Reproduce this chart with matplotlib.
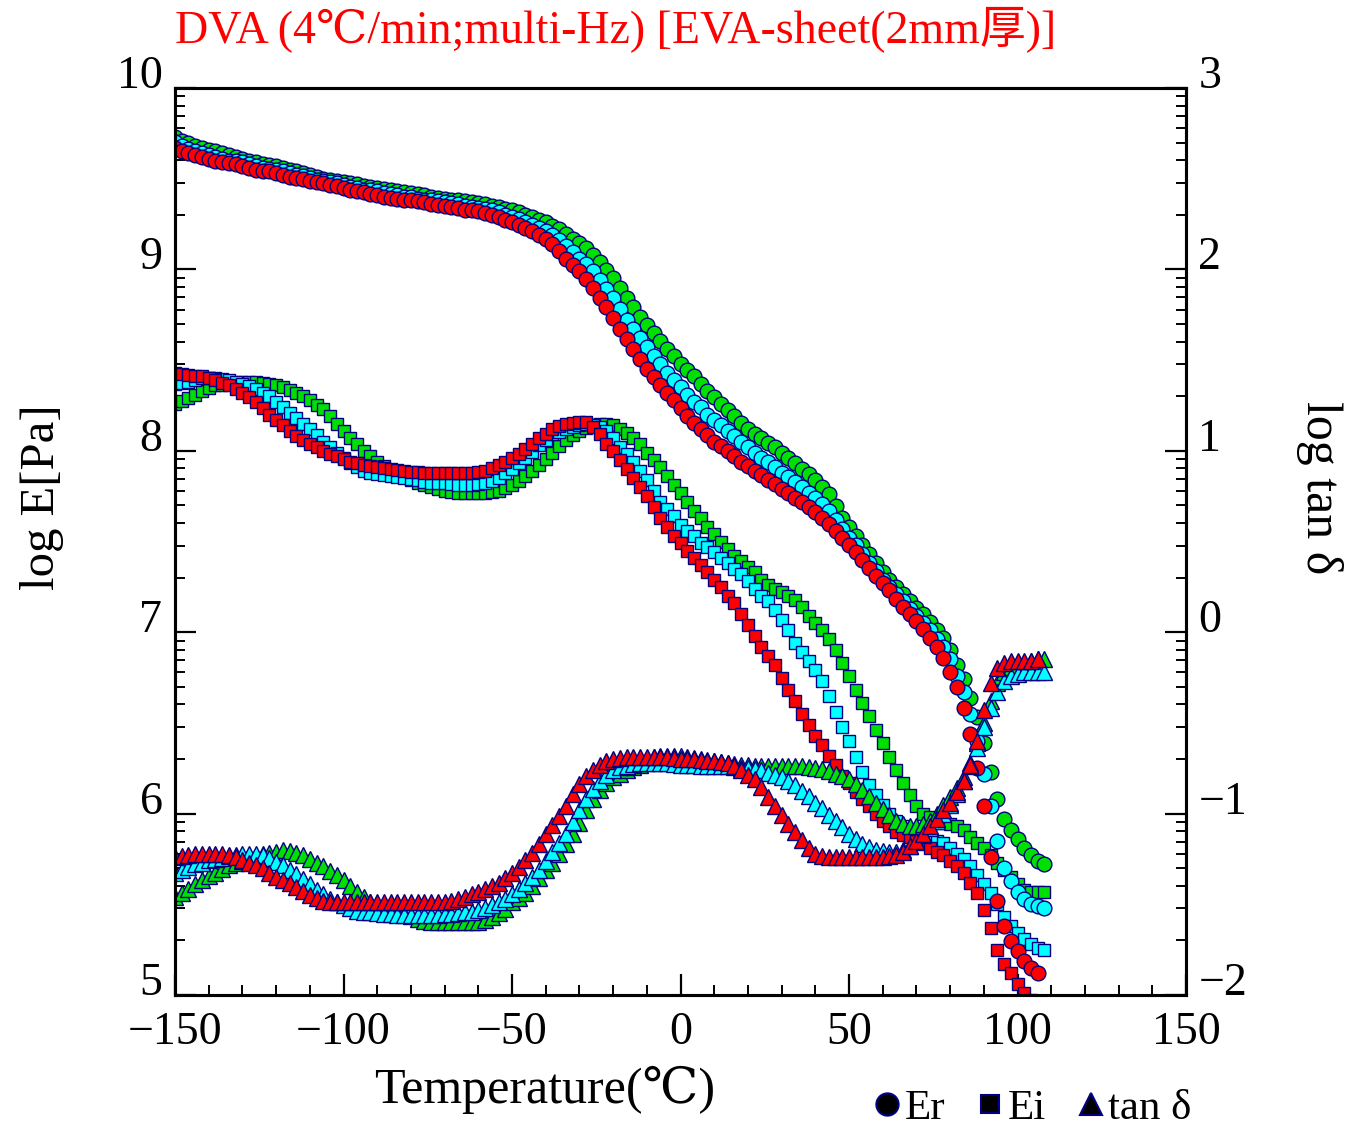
import numpy as np
import matplotlib
matplotlib.use("Agg")
import matplotlib.pyplot as plt
from matplotlib.lines import Line2D

plt.rcParams['font.family'] = ['Liberation Serif', 'DejaVu Serif', 'Noto Sans CJK JP']
plt.rcParams['axes.unicode_minus'] = True

nan = float('nan')

# Temperature grid (deg C)
temps = [-150, -148, -146, -144, -142, -140, -138, -136, -134, -132,
         -130, -128, -126, -124, -122, -120, -118, -116, -114, -112,
         -110, -108, -106, -104, -102, -100, -98, -96, -94, -92,
         -90, -88, -86, -84, -82, -80, -78, -76, -74, -72,
         -70, -68, -66, -64, -62, -60, -58, -56, -54, -52,
         -50, -48, -46, -44, -42, -40, -38, -36, -34, -32,
         -30, -28, -26, -24, -22, -20, -18, -16, -14, -12,
         -10, -8, -6, -4, -2, 0, 2, 4, 6, 8,
         10, 12, 14, 16, 18, 20, 22, 24, 26, 28,
         30, 32, 34, 36, 38, 40, 42, 44, 46, 48,
         50, 52, 54, 56, 58, 60, 62, 64, 66, 68,
         70, 72, 74, 76, 78, 80, 82, 84, 86, 88,
         90, 92, 94, 96, 98, 100, 102, 104, 106, 108]

# log Er [Pa]
er_red = [9.67, 9.655, 9.64, 9.63, 9.62, 9.61, 9.60, 9.59, 9.585, 9.58,
          9.57, 9.56, 9.55, 9.545, 9.54, 9.53, 9.52, 9.51, 9.505, 9.50,
          9.49, 9.48, 9.475, 9.465, 9.46, 9.45, 9.44, 9.43, 9.425, 9.415,
          9.41, 9.40, 9.395, 9.39, 9.385, 9.38, 9.375, 9.37, 9.36, 9.355,
          9.35, 9.345, 9.34, 9.33, 9.325, 9.32, 9.31, 9.30, 9.29, 9.275,
          9.26, 9.245, 9.23, 9.21, 9.19, 9.165, 9.14, 9.10, 9.06, 9.025,
          8.99, 8.945, 8.90, 8.845, 8.79, 8.73, 8.67, 8.615, 8.56, 8.505,
          8.45, 8.405, 8.36, 8.32, 8.28, 8.235, 8.19, 8.155, 8.12, 8.085,
          8.05, 8.025, 8.00, 7.97, 7.94, 7.915, 7.89, 7.865, 7.84, 7.815,
          7.79, 7.765, 7.74, 7.715, 7.69, 7.66, 7.63, 7.595, 7.56, 7.52,
          7.48, 7.44, 7.40, 7.355, 7.31, 7.27, 7.23, 7.185, 7.14, 7.10,
          7.06, 7.015, 6.97, 6.92, 6.86, 6.78, 6.70, 6.58, 6.44, 6.25,
          6.04, 5.76, 5.52, 5.38, 5.30, 5.24, 5.19, 5.15, 5.12, nan]
er_cyan = [9.70, 9.68, 9.665, 9.65, 9.64, 9.63, 9.62, 9.61, 9.60, 9.595,
           9.59, 9.58, 9.57, 9.56, 9.555, 9.55, 9.54, 9.53, 9.52, 9.515,
           9.505, 9.495, 9.49, 9.48, 9.475, 9.465, 9.455, 9.45, 9.44, 9.435,
           9.43, 9.42, 9.415, 9.41, 9.40, 9.40, 9.39, 9.385, 9.38, 9.375,
           9.37, 9.365, 9.36, 9.35, 9.345, 9.34, 9.335, 9.325, 9.315, 9.30,
           9.29, 9.28, 9.26, 9.245, 9.23, 9.21, 9.19, 9.16, 9.13, 9.095,
           9.06, 9.03, 8.99, 8.94, 8.89, 8.84, 8.78, 8.72, 8.67, 8.62,
           8.57, 8.52, 8.48, 8.43, 8.39, 8.35, 8.31, 8.27, 8.24, 8.20,
           8.17, 8.14, 8.11, 8.08, 8.05, 8.02, 7.99, 7.96, 7.94, 7.91,
           7.88, 7.855, 7.83, 7.80, 7.77, 7.74, 7.705, 7.67, 7.62, 7.57,
           7.52, 7.48, 7.43, 7.38, 7.34, 7.29, 7.25, 7.21, 7.17, 7.13,
           7.09, 7.05, 7.01, 6.96, 6.92, 6.85, 6.76, 6.67, 6.55, 6.40,
           6.22, 6.04, 5.85, 5.70, 5.63, 5.57, 5.53, 5.50, 5.49, 5.48]
er_green = [9.73, 9.71, 9.695, 9.68, 9.67, 9.66, 9.65, 9.64, 9.63, 9.62,
            9.61, 9.60, 9.59, 9.58, 9.575, 9.57, 9.56, 9.55, 9.54, 9.53,
            9.52, 9.51, 9.50, 9.495, 9.49, 9.48, 9.475, 9.47, 9.46, 9.455,
            9.45, 9.445, 9.44, 9.43, 9.425, 9.42, 9.415, 9.41, 9.40, 9.395,
            9.39, 9.385, 9.38, 9.375, 9.37, 9.365, 9.36, 9.35, 9.345, 9.335,
            9.325, 9.315, 9.30, 9.29, 9.275, 9.26, 9.24, 9.22, 9.195, 9.17,
            9.145, 9.12, 9.08, 9.04, 8.995, 8.95, 8.895, 8.84, 8.79, 8.74,
            8.695, 8.65, 8.605, 8.56, 8.52, 8.48, 8.445, 8.41, 8.37, 8.33,
            8.295, 8.26, 8.225, 8.19, 8.155, 8.12, 8.095, 8.07, 8.045, 8.02,
            7.99, 7.96, 7.93, 7.90, 7.87, 7.84, 7.80, 7.76, 7.695, 7.63,
            7.58, 7.53, 7.48, 7.43, 7.38, 7.33, 7.29, 7.25, 7.21, 7.17,
            7.135, 7.10, 7.055, 7.01, 6.97, 6.90, 6.82, 6.74, 6.64, 6.53,
            6.39, 6.23, 6.08, 5.97, 5.91, 5.86, 5.81, 5.77, 5.74, 5.72]

# log Ei [Pa]
ei_red = [8.43, 8.425, 8.42, 8.415, 8.41, 8.40, 8.39, 8.375, 8.36, 8.34,
          8.32, 8.295, 8.27, 8.235, 8.20, 8.17, 8.14, 8.11, 8.08, 8.06,
          8.04, 8.02, 8.00, 7.985, 7.97, 7.955, 7.94, 7.93, 7.92, 7.915,
          7.91, 7.905, 7.90, 7.895, 7.89, 7.885, 7.885, 7.88, 7.88, 7.88,
          7.88, 7.88, 7.88, 7.88, 7.88, 7.885, 7.89, 7.905, 7.92, 7.94,
          7.96, 7.985, 8.01, 8.04, 8.07, 8.095, 8.12, 8.135, 8.15, 8.155,
          8.16, 8.16, 8.13, 8.09, 8.04, 8.00, 7.95, 7.90, 7.85, 7.80,
          7.75, 7.69, 7.63, 7.58, 7.53, 7.49, 7.45, 7.41, 7.37, 7.33,
          7.29, 7.25, 7.20, 7.16, 7.10, 7.04, 6.98, 6.92, 6.87, 6.82,
          6.75, 6.68, 6.62, 6.55, 6.49, 6.43, 6.38, 6.32, 6.27, 6.21,
          6.17, 6.12, 6.08, 6.04, 6.00, 5.96, 5.93, 5.90, 5.88, 5.87,
          5.85, 5.83, 5.81, 5.79, 5.77, 5.74, 5.71, 5.67, 5.62, 5.56,
          5.47, 5.37, 5.25, 5.17, 5.12, 5.06, 5.01, 4.97, 4.93, nan]
ei_cyan = [8.37, 8.375, 8.38, 8.39, 8.40, 8.40, 8.40, 8.395, 8.39, 8.38,
           8.37, 8.355, 8.34, 8.32, 8.30, 8.27, 8.24, 8.21, 8.18, 8.15,
           8.12, 8.085, 8.05, 8.02, 7.99, 7.96, 7.93, 7.91, 7.89, 7.88,
           7.87, 7.865, 7.86, 7.855, 7.85, 7.845, 7.84, 7.83, 7.82, 7.82,
           7.82, 7.815, 7.81, 7.81, 7.81, 7.815, 7.82, 7.835, 7.85, 7.875,
           7.90, 7.93, 7.96, 7.995, 8.03, 8.06, 8.09, 8.105, 8.12, 8.13,
           8.14, 8.15, 8.14, 8.13, 8.11, 8.07, 8.02, 7.98, 7.94, 7.89,
           7.84, 7.78, 7.72, 7.68, 7.64, 7.59, 7.56, 7.53, 7.49, 7.47,
           7.44, 7.41, 7.38, 7.35, 7.32, 7.28, 7.24, 7.20, 7.17, 7.12,
           7.07, 7.01, 6.94, 6.89, 6.84, 6.79, 6.73, 6.65, 6.56, 6.48,
           6.40, 6.31, 6.23, 6.16, 6.10, 6.05, 6.00, 5.96, 5.93, 5.91,
           5.89, 5.88, 5.86, 5.85, 5.84, 5.81, 5.78, 5.75, 5.71, 5.66,
           5.61, 5.56, 5.50, 5.43, 5.38, 5.34, 5.31, 5.28, 5.26, 5.25]
ei_green = [8.26, 8.275, 8.29, 8.31, 8.33, 8.345, 8.36, 8.365, 8.37, 8.375,
            8.38, 8.38, 8.38, 8.375, 8.37, 8.36, 8.35, 8.335, 8.32, 8.30,
            8.28, 8.255, 8.23, 8.19, 8.15, 8.11, 8.07, 8.035, 8.00, 7.97,
            7.94, 7.915, 7.89, 7.875, 7.86, 7.84, 7.82, 7.81, 7.80, 7.79,
            7.78, 7.775, 7.77, 7.77, 7.77, 7.77, 7.77, 7.775, 7.78, 7.795,
            7.81, 7.835, 7.86, 7.89, 7.92, 7.955, 7.99, 8.025, 8.06, 8.085,
            8.11, 8.125, 8.14, 8.15, 8.15, 8.14, 8.12, 8.10, 8.07, 8.04,
            7.99, 7.95, 7.91, 7.86, 7.81, 7.77, 7.72, 7.67, 7.63, 7.58,
            7.54, 7.50, 7.46, 7.42, 7.39, 7.36, 7.33, 7.29, 7.26, 7.24,
            7.22, 7.20, 7.18, 7.14, 7.09, 7.05, 7.01, 6.96, 6.90, 6.83,
            6.76, 6.68, 6.61, 6.54, 6.46, 6.39, 6.31, 6.24, 6.17, 6.10,
            6.04, 6.00, 5.98, 5.96, 5.95, 5.94, 5.93, 5.91, 5.87, 5.84,
            5.81, 5.77, 5.73, 5.69, 5.65, 5.61, 5.58, 5.57, 5.57, 5.57]

# log tan delta (right axis)
tan_red = [-1.24, -1.235, -1.23, -1.225, -1.22, -1.22, -1.22, -1.225, -1.23, -1.24,
           -1.255, -1.27, -1.285, -1.30, -1.325, -1.35, -1.365, -1.385, -1.405, -1.425,
           -1.45, -1.465, -1.48, -1.49, -1.49, -1.49, -1.49, -1.49, -1.49, -1.49,
           -1.49, -1.49, -1.49, -1.49, -1.49, -1.49, -1.49, -1.49, -1.49, -1.49,
           -1.485, -1.48, -1.47, -1.46, -1.445, -1.43, -1.415, -1.40, -1.38, -1.355,
           -1.325, -1.295, -1.255, -1.215, -1.165, -1.115, -1.065, -1.015, -0.96, -0.89,
           -0.835, -0.795, -0.76, -0.73, -0.71, -0.70, -0.695, -0.69, -0.69, -0.69,
           -0.69, -0.69, -0.69, -0.69, -0.695, -0.70, -0.70, -0.70, -0.705, -0.71,
           -0.71, -0.715, -0.72, -0.735, -0.76, -0.785, -0.81, -0.855, -0.91, -0.96,
           -1.01, -1.055, -1.10, -1.145, -1.19, -1.22, -1.235, -1.24, -1.24, -1.24,
           -1.24, -1.24, -1.24, -1.24, -1.24, -1.24, -1.235, -1.23, -1.21, -1.18,
           -1.15, -1.11, -1.07, -1.03, -0.98, -0.94, -0.88, -0.82, -0.73, -0.60,
           -0.43, -0.28, -0.20, -0.17, -0.16, -0.16, -0.16, -0.16, -0.15, nan]
tan_cyan = [-1.33, -1.31, -1.295, -1.28, -1.27, -1.255, -1.25, -1.245, -1.235, -1.23,
            -1.225, -1.225, -1.225, -1.23, -1.245, -1.265, -1.285, -1.31, -1.335, -1.36,
            -1.39, -1.42, -1.445, -1.47, -1.49, -1.505, -1.52, -1.535, -1.54, -1.545,
            -1.55, -1.555, -1.555, -1.56, -1.56, -1.56, -1.56, -1.56, -1.56, -1.56,
            -1.555, -1.555, -1.55, -1.545, -1.54, -1.53, -1.52, -1.505, -1.49, -1.47,
            -1.445, -1.415, -1.385, -1.35, -1.31, -1.26, -1.21, -1.16, -1.11, -1.045,
            -0.98, -0.92, -0.865, -0.82, -0.785, -0.76, -0.745, -0.735, -0.725, -0.72,
            -0.72, -0.72, -0.72, -0.72, -0.725, -0.73, -0.73, -0.73, -0.735, -0.735,
            -0.74, -0.74, -0.74, -0.745, -0.75, -0.75, -0.755, -0.76, -0.775, -0.785,
            -0.80, -0.82, -0.845, -0.875, -0.905, -0.94, -0.97, -1.005, -1.04, -1.075,
            -1.11, -1.14, -1.165, -1.185, -1.20, -1.205, -1.21, -1.21, -1.20, -1.18,
            -1.15, -1.12, -1.08, -1.04, -1.00, -0.95, -0.89, -0.82, -0.74, -0.64,
            -0.52, -0.42, -0.33, -0.27, -0.24, -0.23, -0.22, -0.22, -0.22, -0.22]
tan_green = [-1.46, -1.435, -1.415, -1.39, -1.365, -1.345, -1.325, -1.305, -1.285, -1.27,
             -1.26, -1.25, -1.235, -1.225, -1.215, -1.21, -1.20, -1.205, -1.215, -1.23,
             -1.25, -1.27, -1.29, -1.315, -1.34, -1.365, -1.40, -1.43, -1.46, -1.485,
             -1.505, -1.52, -1.535, -1.545, -1.555, -1.565, -1.58, -1.59, -1.60, -1.60,
             -1.60, -1.60, -1.60, -1.60, -1.60, -1.595, -1.585, -1.57, -1.55, -1.525,
             -1.49, -1.465, -1.435, -1.40, -1.355, -1.31, -1.27, -1.225, -1.17, -1.11,
             -1.05, -0.98, -0.92, -0.87, -0.83, -0.80, -0.78, -0.76, -0.745, -0.73,
             -0.71, -0.69, -0.685, -0.68, -0.68, -0.685, -0.69, -0.695, -0.70, -0.705,
             -0.71, -0.715, -0.72, -0.725, -0.73, -0.73, -0.735, -0.735, -0.74, -0.74,
             -0.74, -0.74, -0.74, -0.74, -0.745, -0.75, -0.755, -0.765, -0.78, -0.795,
             -0.81, -0.835, -0.87, -0.905, -0.94, -0.975, -1.01, -1.04, -1.06, -1.07,
             -1.07, -1.06, -1.04, -1.00, -0.95, -0.91, -0.86, -0.80, -0.72, -0.61,
             -0.50, -0.38, -0.28, -0.22, -0.19, -0.18, -0.17, -0.16, -0.15, -0.15]

title_text = "DVA (4\u2103/min;multi-Hz) [EVA-sheet(2mm\u539a)]"
x_ticks = [-150, -100, -50, 0, 50, 100, 150]
left_ticks = [5, 6, 7, 8, 9, 10]
right_ticks = [-2, -1, 0, 1, 2, 3]
legend_labels = ["Er", "Ei", "tan \u03b4"]

RED = '#ff0000'
CYAN = '#00ffff'
GREEN = '#00e000'
EDGE = '#000080'

fig = plt.figure(figsize=(13.62, 11.30), dpi=100)
ax = fig.add_axes([175/1362, 1 - 995/1130, (1186-175)/1362, (995-88)/1130])
ax2 = ax.twinx()

series = [(GREEN, er_green, ei_green, tan_green),
          (CYAN, er_cyan, ei_cyan, tan_cyan),
          (RED, er_red, ei_red, tan_red)]
for col, er, ei, td in series:
    ax.plot(temps, ei, linestyle='none', marker='s', ms=9.3, mfc=col, mec=EDGE, mew=1.0)
for col, er, ei, td in series:
    ax.plot(temps, er, linestyle='none', marker='o', ms=10.6, mfc=col, mec=EDGE, mew=1.0)
for col, er, ei, td in series:
    ax2.plot(temps, td, linestyle='none', marker='^', ms=11, mfc=col, mec=EDGE, mew=1.0)

ax.set_xlim(-150, 150)
ax.set_ylim(5, 10)
ax2.set_ylim(-2, 3)

ax.set_xticks(x_ticks)
ax.set_xticks(np.arange(-150, 151, 10), minor=True)
ax.set_yticks(left_ticks)
ax.set_yticks([n + np.log10(k) for n in range(5, 10) for k in range(2, 10)], minor=True)
ax2.set_yticks(right_ticks)
ax2.set_yticks([n + np.log10(k) for n in range(-2, 3) for k in range(2, 10)], minor=True)

ax.set_xticklabels(["\u2212150", "\u2212100", "\u221250", "0", "50", "100", "150"])
ax.set_yticklabels([str(v) for v in left_ticks])
ax2.set_yticklabels([("\u2212" + str(-v)) if v < 0 else str(v) for v in right_ticks])

ax.tick_params(axis='both', which='major', direction='in', length=15, width=1.6,
               labelsize=33, top=False, right=False, pad=9)
ax.tick_params(axis='both', which='minor', direction='in', length=7, width=1.4,
               top=False, right=False)
ax.tick_params(axis='x', which='major', pad=12)
ax2.tick_params(axis='y', which='major', direction='in', length=15, width=1.6,
                labelsize=33, pad=9)
ax2.tick_params(axis='y', which='minor', direction='in', length=7, width=1.4)

for lbl in ax.get_yticklabels():
    lbl.set_verticalalignment('baseline')
for lbl in ax2.get_yticklabels():
    lbl.set_verticalalignment('baseline')

for a in (ax, ax2):
    for s in a.spines.values():
        s.set_linewidth(2.2)

fig.text(175/1362, 1 - 30/1130, title_text, color='red', fontsize=33,
         ha='left', va='center')
fig.text(545/1362, 1 - 1090/1130, "Temperature(\u2103)", fontsize=36,
         ha='center', va='center')
fig.text(42/1362, 1 - 497/1130, "log E[Pa]", fontsize=35, rotation=90,
         ha='center', va='center')
fig.text(1320/1362, 1 - 488/1130, "log tan \u03b4", fontsize=36, rotation=-90,
         ha='center', va='center')

handles = [Line2D([], [], linestyle='none', marker='o', ms=16, mfc='black', mec=EDGE, mew=1.5),
           Line2D([], [], linestyle='none', marker='s', ms=13, mfc='black', mec=EDGE, mew=1.5),
           Line2D([], [], linestyle='none', marker='^', ms=16, mfc='black', mec=EDGE, mew=1.5)]
fig.legend(handles, legend_labels, loc='center', bbox_to_anchor=(1032/1362, 1 - 1108/1130),
           ncol=3, frameon=False, fontsize=31, handlelength=0.7, handletextpad=0.05,
           columnspacing=0.7, borderpad=0)

fig.savefig("out.png", dpi=100)
